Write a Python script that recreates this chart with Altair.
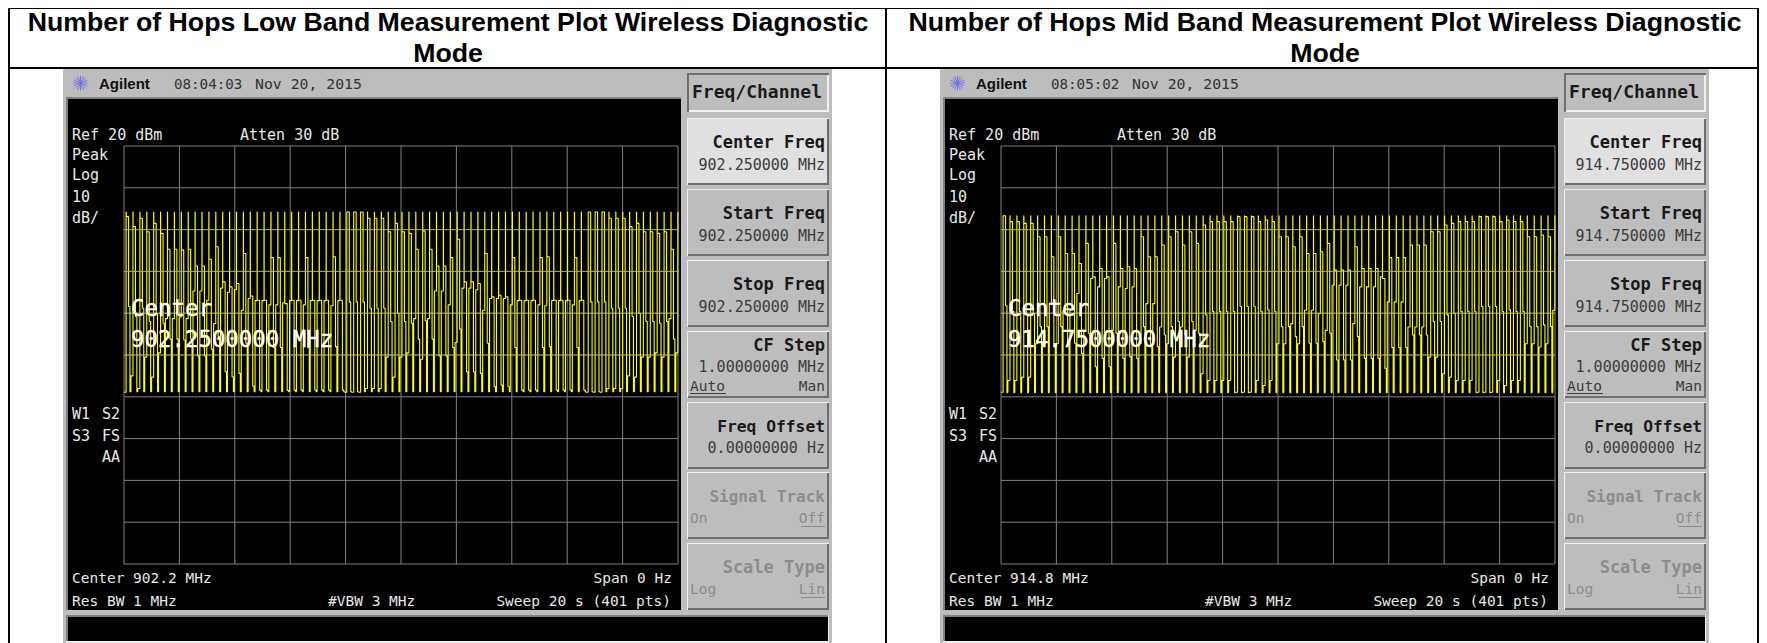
import altair as alt
import pandas as pd

# ---------- readings from the picture ----------
TITLES = ["Number of Hops Low Band Measurement Plot Wireless Diagnostic",
          "Number of Hops Mid Band Measurement Plot Wireless Diagnostic"]
CLOCKS = ["08:04:03", "08:05:02"]
FREQ6 = ["902.250000 MHz", "914.750000 MHz"]
FREQ7 = ["902.2500000 MHz", "914.7500000 MHz"]
FREQ1 = ["Center 902.2 MHz", "Center 914.8 MHz"]

LOW_TOP, LOW_FLOOR = 4.2, -38.8
MID_TOP, MID_FLOOR = 3.3, -39.0

low_rise = [-38.9,-35,-38,-30.5,-35.3,-29.5,-21.3,-21.3,-20.9,-21.3,
 -14.7,-14.7,-16.9,-22.5,-14,-15,-14.4,-19.3,-16.5,-17,
 -17,-18,-18,-17.5,-17,-17,-18,-17,-17,-17,
 -18.2,-17,-38.9,-38.9,-38.9,-38,-38,-38,-30.5,-35.3,
 -30.5,-29.5,-21.3,-31,-21.3,-14.7,-14.7,-18,-27,-14,
 -14,-14.4,-19.3,-16.5,-16.5,-16.5,-18,-17,-17,-17,
 -18,-18.2,-17,-17,-17,-18,-17,-38.9,-38.9,-38.9,
 -38,-38,-38,-35,-35.3,-30.5,-30.5,-29.5,-30.5,-21.3,-29.5]
low_second = [3.1,0.7,2.7,-0.5,1.5,-0.9,-4.7,-4.7,-4.9,-4.7,
 -8.7,-8.7,-7.1,-4.1,-12.5,-13.7,-12.9,-5.7,-15.9,-16.9,
 -16.9,-6.7,-6.7,-17.7,-16.9,-16.9,-6.7,-16.9,-16.9,-16.9,
 -6.5,-16.9,4.2,4.2,4.2,2.7,2.7,2.7,-0.5,1.5,
 -0.5,-0.9,-4.7,-0.3,-4.7,-8.7,-8.7,-6.7,-2.3,-12.5,
 -12.5,-12.9,-5.7,-16.1,-15.7,-16.1,-6.7,-16.9,-16.9,-16.9,
 -6.7,-6.5,-16.9,-16.9,-16.9,-6.7,-16.9,4.2,4.2,4.2,
 2.7,2.7,2.7,0.7,1.5,-0.5,-0.5,-0.9,-0.5,-4.7,-0.9]
low_third = [-18.4,-20.8,-18.8,-22,-20,-22.4,-26.2,-26.2,-26.4,-26.2,
 -30.2,-30.2,-28.6,-25.6,-34,-35.2,-34.4,-27.2,-37.4,-38.4,
 -38.4,-28.2,-28.2,-38.5,-38.4,-38.4,-28.2,-38.4,-38.4,-38.4,
 -28,-38.4,-17.3,-17.3,-17.3,-18.8,-18.8,-18.8,-22,-20,
 -22,-22.4,-26.2,-21.8,-26.2,-30.2,-30.2,-28.2,-23.8,-34,
 -34,-34.4,-27.2,-37.6,-37.2,-37.6,-28.2,-38.4,-38.4,-38.4,
 -28.2,-28,-38.4,-38.4,-38.4,-28.2,-38.4,-17.3,-17.3,-17.3,
 -18.8,-18.8,-18.8,-20.8,-20,-22,-22,-22.4,-22,-26.2,-22.4]

mid_rise = [-38.9,-36.1,-36.1,-35.3,-35.3,-27.3,-27.3,-17.7,-27.3,-19.3,
 -19.3,-15.3,-24.1,-11.7,-13.7,-11.7,-24.1,-13.7,-14.1,-13.7,
 -27.3,-17.7,-17.7,-23.3,-27.3,-30.5,-23.3,-30.5,-24.1,-34.5,
 -36.1,-36.1,-36.1,-36.1,-38.9,-38.9,-38.9,-36.1,-37.3,-36.1,
 -27.3,
 -27.3,-22.5,-27.3,-19.3,-19.3,-20.1,-24.1,-13.3,-13.3,-13.3,
 -22.5,-13.7,-13.7,-13.7,-11.3,-17.3,-17.3,-17.3,-23.3,-23.3,
 -23.3,-30.5,-30.5,-34.5,-35.3,-36.1,-36.1,-36.1,-38.9,-38.9,
 -38.9,-36.1,-37.3,-36.1,-36.1,-27.3,-27.3,-28.1,-27.3,-19.3]
mid_second = [3.3,1.9,1.9,1.5,1.5,-1.7,-1.7,-6.5,-1.7,-5.7,
 -5.7,-8.1,-3.3,-11.3,-9.3,-11.3,-3.3,-9.3,-8.9,-9.3,
 -1.7,-6.5,-6.5,-3.7,-1.7,-0.5,-3.7,-0.5,-3.3,1.1,
 1.9,1.9,1.9,1.9,3.1,3.1,3.1,1.9,2.3,1.9,
 -1.7,
 -1.7,-4.1,-1.7,-5.7,-5.7,-5.3,-3.3,-9.7,-9.7,-9.7,
 -4.1,-9.3,-9.3,-9.3,-11.7,-6.7,-6.7,-6.7,-3.7,-3.7,
 -3.7,-0.5,-0.5,1.1,1.5,1.9,1.9,1.9,3.1,3.1,
 3.1,1.9,2.3,1.9,1.9,-1.7,-1.7,-1.3,-1.7,-5.7]
mid_third = [-18.2,-19.6,-19.6,-20,-20,-23.2,-23.2,-28,-23.2,-27.2,
 -27.2,-29.6,-24.8,-32.8,-30.8,-32.8,-24.8,-30.8,-30.4,-30.8,
 -23.2,-28,-28,-25.2,-23.2,-22,-25.2,-22,-24.8,-20.4,
 -19.6,-19.6,-19.6,-19.6,-18.4,-18.4,-18.4,-19.6,-19.2,-19.6,
 -23.2,
 -23.2,-25.6,-23.2,-27.2,-27.2,-26.8,-24.8,-31.2,-31.2,-31.2,
 -25.6,-30.8,-30.8,-30.8,-33.2,-28.2,-28.2,-28.2,-25.2,-25.2,
 -25.2,-22,-22,-20.4,-20,-19.6,-19.6,-19.6,-18.4,-18.4,
 -18.4,-19.6,-19.2,-19.6,-19.6,-23.2,-23.2,-22.8,-23.2,-27.2]

HOP_S = 0.249
PHASE_S = [-0.075, 0.0, 0.004, 0.09, 0.14]   # rise, top, second, third, floor, relative to the top
GRID_T = [0, 2, 4, 6, 8, 10, 12, 14, 16, 18, 20]
GRID_DB = [20, 10, 0, -10, -20, -30, -40, -50, -60, -70, -80]
BRIGHT_DB = [0, -10, -20, -30]

# ---------- geometry ----------
DX = 877
X_PX = alt.Scale(domain=[8, 1759], range=[0, 1751])
Y_PX = alt.Scale(domain=[8, 643], range=[0, 635])
GRAY, LIGHT, DARK, HI = "#bdbdbd", "#f0f0f0", "#6e6e6e", "#e0e0e0"
MONO, SANS = "DejaVu Sans Mono", "Liberation Sans"

rects, texts = [], []


def rect(x0, y0, x1, y1, c):
    rects.append(dict(x=x0, x2=x1, y=y0, y2=y1, c=c))


def text(x, y, s, size=15, font=MONO, weight="normal", align="left", color="#e8e8e8"):
    texts.append(dict(x=x, y=y, s=s, size=size, font=font, weight=weight, align=align, color=color))


def key(dx, top, fill=GRAY):
    x0, x1 = 687 + dx, 829 + dx
    rect(x0, top, x1, top + 67, LIGHT)
    rect(x0 + 1, top + 1, x1, top + 67, DARK)
    rect(x0 + 1, top + 1, x1 - 2, top + 65, fill)


# white page & table
rect(8, 8, 1759, 643, "white")

for p, dx in enumerate([0, DX]):
    rect(63 + dx, 69, 832 + dx, 643, GRAY)
    rect(66 + dx, 97, 681 + dx, 610, "#808080")
    rect(68 + dx, 99, 681 + dx, 610, "black")
    rect(66 + dx, 615, 829 + dx, 643, LIGHT)
    rect(66 + dx, 615, 828 + dx, 641, "#808080")
    rect(68 + dx, 617, 828 + dx, 641, "black")
    rect(687 + dx, 73, 829 + dx, 112, DARK)
    rect(689 + dx, 75, 829 + dx, 112, LIGHT)
    rect(689 + dx, 75, 827 + dx, 110, GRAY)
    tops = [118, 189, 260, 331, 402, 472, 543]
    for i, t in enumerate(tops):
        key(dx, t, HI if i == 0 else GRAY)

    ink = "#1a1a1a"
    sub = "#3c3c3c"
    off = "#8c8c8c"
    right = 825 + dx
    text(692 + dx, 98, "Freq/Channel", 18, MONO, "bold", "left", ink)
    for t, lab in zip(tops[:3], ["Center Freq", "Start Freq", "Stop Freq"]):
        text(right, t + 30, lab, 17, MONO, "bold", "right", ink)
        text(right, t + 52, FREQ6[p], 15, MONO, "normal", "right", sub)
    text(right, 351, "CF Step", 17, MONO, "bold", "right", ink)
    text(right, 372, "1.00000000 MHz", 15, MONO, "normal", "right", sub)
    text(690 + dx, 391, "Auto", 14.5, MONO, "normal", "left", sub)
    rect(690 + dx, 393, 726 + dx, 394, sub)
    text(right, 391, "Man", 14.5, MONO, "normal", "right", sub)
    text(right, 432, "Freq Offset", 16.3, MONO, "bold", "right", ink)
    text(right, 453, "0.00000000  Hz", 15, MONO, "normal", "right", sub)
    text(right, 502, "Signal Track", 16, MONO, "bold", "right", off)
    text(690 + dx, 523, "On", 14.5, MONO, "normal", "left", off)
    text(right, 523, "Off", 14.5, MONO, "normal", "right", off)
    rect(right - 24, 526, right, 527, off)
    text(right, 573, "Scale Type", 17, MONO, "bold", "right", off)
    text(690 + dx, 594, "Log", 14.5, MONO, "normal", "left", off)
    text(right, 594, "Lin", 14.5, MONO, "normal", "right", off)
    rect(right - 24, 597, right, 598, off)

    text(99 + dx, 89, "Agilent", 15, SANS, "bold", "left", "#111111")
    text(174 + dx, 89, CLOCKS[p], 14.2, MONO, "normal", "left", "#333333")
    text(255 + dx, 89, "Nov 20, 2015", 14.8, MONO, "normal", "left", "#333333")
    text(72 + dx, 140, "Ref 20 dBm")
    text(240 + dx, 140, "Atten 30 dB")
    for y, s in [(160, "Peak"), (180, "Log"), (202, "10"), (223, "dB/"), (419, "W1"), (441, "S3")]:
        text(72 + dx, y, s)
    for y, s in [(419, "S2"), (441, "FS"), (462, "AA")]:
        text(120 + dx, y, s, align="right")
    text(72 + dx, 583, FREQ1[p], 14.5)
    text(72 + dx, 606, "Res BW 1 MHz", 14.5)
    text(328 + dx, 606, "#VBW 3 MHz", 14.5)
    text(672 + dx, 583, "Span 0 Hz", 14.5, align="right")
    text(671 + dx, 606, "Sweep 20 s (401 pts)", 14.5, align="right")

# table rules
rect(8, 8, 1759, 9, "black")
rect(8, 67, 1759, 69, "black")
rect(8, 8, 10, 643, "black")
rect(885, 8, 887, 643, "black")
rect(1757, 8, 1759, 643, "black")

text(448, 31, TITLES[0], 26.7, SANS, "bold", "center", "black")
text(448, 62, "Mode", 26.7, SANS, "bold", "center", "black")
text(1325, 31, TITLES[1], 26.7, SANS, "bold", "center", "black")
text(1325, 62, "Mode", 26.7, SANS, "bold", "center", "black")

overlay = []
for p, dx in enumerate([0, DX]):
    overlay.append(dict(x=131 + dx, y=316, s="Center"))
    overlay.append(dict(x=131 + dx, y=347, s=FREQ7[p]))


def trace_df(rise, top, second, third, floor):
    ts, vs = [], []
    for i, (r, s, t) in enumerate(zip(rise, second, third)):
        for ph, v in zip(PHASE_S, [r, top, s, t, floor]):
            ts.append(0.075 + i * HOP_S + ph)
            vs.append(v)
    d = pd.DataFrame({"t": ts, "dbm": vs})
    return d[d.t <= 20]


layers = [alt.Chart(pd.DataFrame(rects)).mark_rect(strokeWidth=0).encode(
    x=alt.X("x:Q", scale=X_PX, axis=None),
    x2="x2:Q",
    y=alt.Y("y:Q", scale=Y_PX, axis=None),
    y2="y2:Q",
    color=alt.Color("c:N", scale=None, legend=None),
)]

# Agilent stars
STAR = "M-1,0L1,0M0,-1L0,1M-.7,-.7L.7,.7M-.7,.7L.7,-.7M-.38,-.92L.38,.92M.38,-.92L-.38,.92M-.92,-.38L.92,.38M-.92,.38L.92,-.38"
layers.append(alt.Chart(pd.DataFrame({"x": [80.5, 80.5 + DX], "y": [83, 83]})).mark_point(
    shape=STAR, size=230, stroke="#6f6fe8", strokeWidth=0.9, opacity=1).encode(
    x=alt.X("x:Q", scale=X_PX, axis=None), y=alt.Y("y:Q", scale=Y_PX, axis=None)))

traces = [trace_df(low_rise, LOW_TOP, low_second, low_third, LOW_FLOOR),
          trace_df(mid_rise, MID_TOP, mid_second, mid_third, MID_FLOOR)]
for p, (dx, tr) in enumerate(zip([0, DX], traces)):
    xs = alt.Scale(domain=[0, 20], range=[124 - 8 + dx, 678 - 8 + dx])
    ys = alt.Scale(domain=[-80, 20], range=[564 - 8, 146 - 8])
    layers.append(alt.Chart(pd.DataFrame({"t": GRID_T})).mark_rule(
        color="#808080", strokeWidth=1).encode(
        x=alt.X("t:Q", scale=xs, axis=None),
        y=alt.value(146 - 8), y2=alt.value(564 - 8)))
    layers.append(alt.Chart(pd.DataFrame({"d": GRID_DB})).mark_rule(
        color="#808080", strokeWidth=1).encode(
        y=alt.Y("d:Q", scale=ys, axis=None),
        x=alt.value(124 - 8 + dx), x2=alt.value(678 - 8 + dx)))
    layers.append(alt.Chart(tr).mark_line(
        color="#ffff00", strokeWidth=1.1, strokeJoin="bevel", interpolate="step-after").encode(
        x=alt.X("t:Q", scale=xs, axis=None, sort=None),
        y=alt.Y("dbm:Q", scale=ys, axis=None)))
    layers.append(alt.Chart(pd.DataFrame({"d": BRIGHT_DB})).mark_rule(
        color="#a8a898", strokeWidth=1, opacity=0.7).encode(
        y=alt.Y("d:Q", scale=ys, axis=None),
        x=alt.value(124 - 8 + dx), x2=alt.value(678 - 8 + dx)))

tdf = pd.DataFrame(texts)
for (size, font, weight, align, color), g in tdf.groupby(["size", "font", "weight", "align", "color"]):
    layers.append(alt.Chart(g[["x", "y", "s"]]).mark_text(
        fontSize=size, font=font, fontWeight=weight, align=align, baseline="alphabetic", color=color).encode(
        x=alt.X("x:Q", scale=X_PX, axis=None),
        y=alt.Y("y:Q", scale=Y_PX, axis=None),
        text="s:N"))

layers.append(alt.Chart(pd.DataFrame(overlay)).mark_text(
    fontSize=22.4, font=MONO, align="left", baseline="alphabetic", color="white",
    stroke="white", strokeWidth=0.4).encode(
    x=alt.X("x:Q", scale=X_PX, axis=None),
    y=alt.Y("y:Q", scale=Y_PX, axis=None),
    text="s:N"))

chart = alt.layer(*layers).resolve_scale(x="independent", y="independent").properties(
    width=1751, height=635, padding=0, autosize="none",
    background="white",
).configure_view(stroke=None)

chart.save("out.html", embed_options={"renderer": "svg", "actions": False})
